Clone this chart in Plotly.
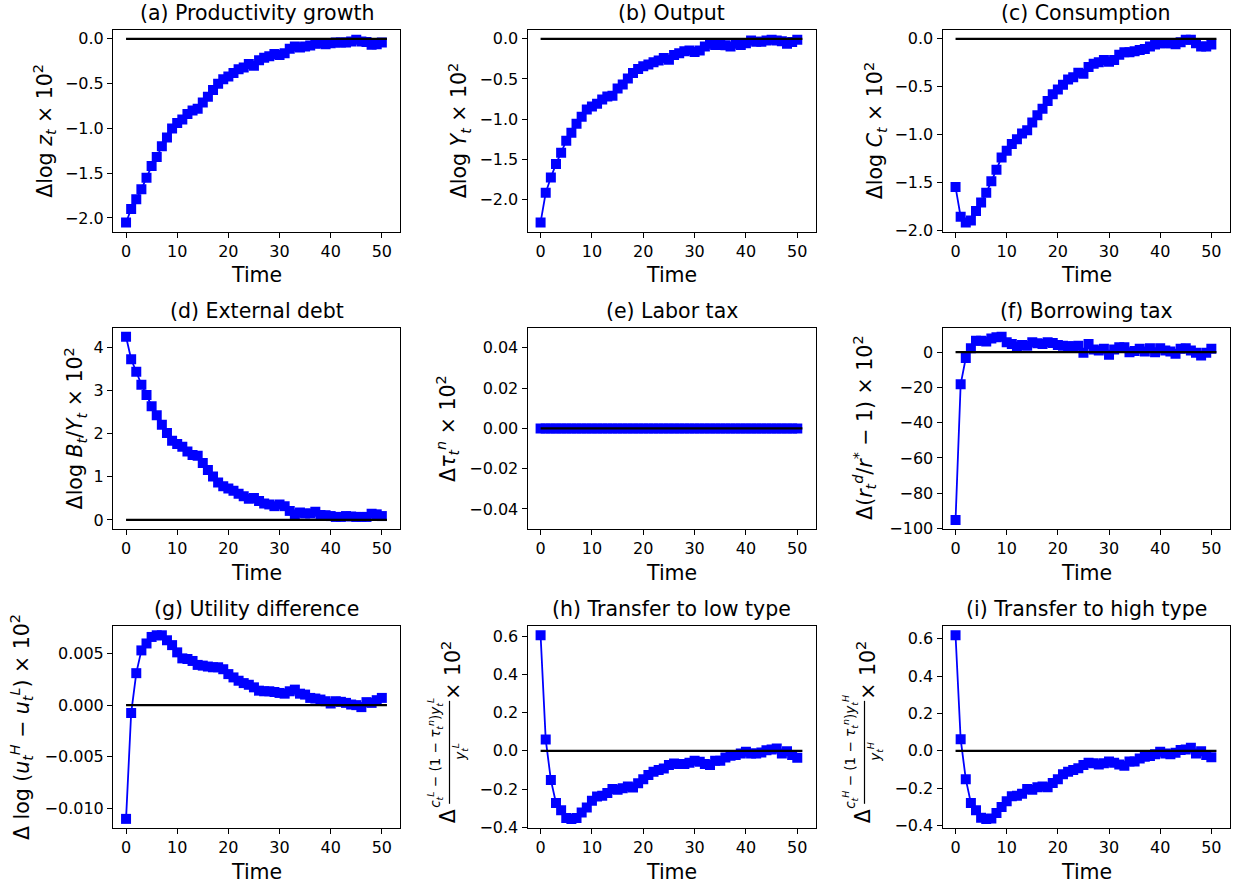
import plotly.graph_objects as go

W, H = 1233, 892

t = list(range(51))
zero_x = [0, 51]
zero_y = [0, 0]

prod = [-2.05, -1.90, -1.79, -1.68, -1.55, -1.42, -1.32, -1.20, -1.10, -1.00,
        -0.94, -0.90, -0.84, -0.80, -0.78, -0.71, -0.645, -0.57, -0.50, -0.45,
        -0.42, -0.38, -0.34, -0.32, -0.28, -0.30, -0.24, -0.21, -0.195, -0.17,
        -0.18, -0.16, -0.11, -0.085, -0.095, -0.085, -0.075, -0.055, -0.05, -0.06,
        -0.05, -0.04, -0.04, -0.04, -0.03, -0.01, -0.03, -0.035, -0.065, -0.06, -0.04]

output = [-2.29, -1.92, -1.73, -1.56, -1.42, -1.27, -1.17, -1.06, -0.97, -0.88,
          -0.845, -0.81, -0.755, -0.72, -0.71, -0.62, -0.57, -0.495, -0.425, -0.375,
          -0.34, -0.32, -0.29, -0.27, -0.24, -0.26, -0.20, -0.18, -0.155, -0.145,
          -0.165, -0.145, -0.095, -0.06, -0.075, -0.075, -0.08, -0.095, -0.06, -0.075,
          -0.055, -0.02, -0.035, -0.035, -0.02, -0.01, -0.02, -0.03, -0.06, -0.04, -0.01]

consumption = [-1.55, -1.86, -1.92, -1.90, -1.80, -1.71, -1.61, -1.49, -1.37, -1.24,
               -1.17, -1.10, -1.05, -0.99, -0.955, -0.875, -0.80, -0.73, -0.65, -0.58,
               -0.53, -0.48, -0.425, -0.40, -0.355, -0.365, -0.295, -0.26, -0.245, -0.22,
               -0.24, -0.22, -0.165, -0.14, -0.14, -0.13, -0.115, -0.105, -0.08, -0.06,
               -0.045, -0.045, -0.045, -0.055, -0.035, -0.01, -0.01, -0.045, -0.08, -0.08, -0.06]

debt = [4.25, 3.73, 3.44, 3.14, 2.90, 2.64, 2.43, 2.21, 2.02, 1.84,
        1.76, 1.70, 1.59, 1.51, 1.49, 1.32, 1.16, 1.01, 0.87, 0.78,
        0.73, 0.68, 0.61, 0.55, 0.49, 0.51, 0.44, 0.38, 0.36, 0.32,
        0.36, 0.32, 0.21, 0.13, 0.17, 0.15, 0.15, 0.19, 0.115, 0.11,
        0.09, 0.07, 0.07, 0.09, 0.08, 0.07, 0.07, 0.07, 0.145, 0.13, 0.09]

labor_tax = [0.0] * 51

borrow_tax = [-95.2, -18.2, -3.3, 2.2, 6.5, 6.5, 6.1, 7.8, 8.4, 8.7,
              5.6, 4.6, 3.2, 4.1, 3.7, 5.6, 5.0, 4.6, 5.6, 5.2,
              4.1, 3.7, 3.3, 3.3, 3.7, -0.4, 4.6, 1.5, 0.9, 1.9,
              -1.5, 1.5, 2.8, 2.8, 0.0, 0.6, 1.9, 0.4, 2.2, 0.0,
              2.2, 0.9, 0.4, -0.9, 1.9, 2.2, 0.9, -0.4, -1.9, -0.4, 1.9]

utility = [-0.01099, -0.00076, 0.00309, 0.00529, 0.00596, 0.00659, 0.00675, 0.00675, 0.00627, 0.0058,
           0.0051, 0.00452, 0.00446, 0.00427, 0.00389, 0.00382, 0.00373, 0.00366, 0.00366, 0.00347,
           0.0030, 0.00268, 0.00236, 0.00213, 0.00197, 0.00172, 0.0014, 0.00134, 0.00134, 0.00127,
           0.00118, 0.00111, 0.00134, 0.0015, 0.00111, 0.00102, 0.0007, 0.00064, 0.00054, 0.00038,
           0.00016, 0.00038, 0.00032, 0.00022, 0.00006, 0.0, -0.00019, 0.00029, 0.00022, 0.00048, 0.0007]

transfer_low = [0.605, 0.059, -0.152, -0.273, -0.311, -0.351, -0.356, -0.351, -0.322, -0.296,
                -0.261, -0.239, -0.235, -0.221, -0.200, -0.204, -0.195, -0.187, -0.192, -0.169,
                -0.149, -0.126, -0.109, -0.100, -0.092, -0.074, -0.066, -0.069, -0.069, -0.062,
                -0.052, -0.057, -0.069, -0.074, -0.052, -0.052, -0.035, -0.026, -0.022, -0.014,
                -0.005, -0.014, -0.014, -0.009, 0.003, 0.007, 0.012, -0.014, -0.002, -0.022, -0.036]

transfer_high = [0.619, 0.062, -0.152, -0.280, -0.319, -0.359, -0.365, -0.363, -0.333, -0.301,
                 -0.271, -0.244, -0.241, -0.230, -0.205, -0.209, -0.196, -0.191, -0.196, -0.173,
                 -0.152, -0.126, -0.112, -0.103, -0.094, -0.076, -0.064, -0.067, -0.073, -0.067,
                 -0.058, -0.064, -0.073, -0.080, -0.058, -0.058, -0.041, -0.032, -0.028, -0.018,
                 -0.005, -0.014, -0.018, -0.011, 0.004, 0.007, 0.016, -0.014, -0.002, -0.023, -0.035]

titles = ["(a) Productivity growth", "(b) Output", "(c) Consumption",
          "(d) External debt", "(e) Labor tax", "(f) Borrowing tax",
          "(g) Utility difference", "(h) Transfer to low type", "(i) Transfer to high type"]

series = [prod, output, consumption, debt, labor_tax, borrow_tax, utility, transfer_low, transfer_high]

ylabels = [
    "Δlog <i>z</i><sub><i>t</i></sub> × 10<sup>2</sup>",
    "Δlog <i>Y</i><sub><i>t</i></sub> × 10<sup>2</sup>",
    "Δlog <i>C</i><sub><i>t</i></sub> × 10<sup>2</sup>",
    "Δlog <i>B</i><sub><i>t</i></sub>/<i>Y</i><sub><i>t</i></sub> × 10<sup>2</sup>",
    "Δ<i>τ</i><sub><i>t</i></sub><sup><i>n</i></sup> × 10<sup>2</sup>",
    "Δ(<i>r</i><sub><i>t</i></sub><sup><i>d</i></sup>/<i>r</i><sup>*</sup> − 1) × 10<sup>2</sup>",
    "Δ log (<i>u</i><sub><i>t</i></sub><sup><i>H</i></sup> − <i>u</i><sub><i>t</i></sub><sup><i>L</i></sup>) × 10<sup>2</sup>",
    None, None,
]

ylabel_offsets = [-68, -68, -67, -38, -80, -78, -92, None, None]

ytick_dtick = [0.5, 0.5, 0.5, 1, 0.02, 20, 0.005, 0.2, 0.2]
ytick_fmt = [".1f", ".1f", ".1f", "d", ".2f", "d", ".3f", ".1f", ".1f"]

# layout geometry (pixels)
col_x = [(113, 400), (527.5, 815.5), (942.5, 1229.5)]
row_y = [(30, 234), (331, 534.5), (632.5, 836.5)]

FONT = "DejaVu Sans"
BLUE = "#0000ff"
TICK_SIZE = 16
LABEL_SIZE = 20.5

def px(x):
    return x / W

def py(y):
    return 1 - y / H

fig = go.Figure()
annotations = []
shapes = []
axes = {}

for i in range(9):
    r, c = divmod(i, 3)
    x0, x1 = col_x[c]
    y0, y1 = row_y[r]
    ax = "" if i == 0 else str(i + 1)
    ys = series[i]
    fig.add_trace(go.Scatter(
        x=t, y=ys, mode="lines+markers",
        line=dict(color=BLUE, width=1.8),
        marker=dict(symbol="square", size=10, color=BLUE, line=dict(width=0)),
        xaxis="x" + ax, yaxis="y" + ax, showlegend=False))
    fig.add_trace(go.Scatter(
        x=zero_x, y=zero_y, mode="lines",
        line=dict(color="black", width=2.2),
        xaxis="x" + ax, yaxis="y" + ax, showlegend=False))

    lo = min(min(ys), 0)
    hi = max(max(ys), 0)
    if hi == lo:
        yr = [-0.05, 0.05]
    else:
        pad = 0.05 * (hi - lo)
        yr = [lo - pad, hi + pad]
    xr = [-2.55, 53.55]

    def common():
        return dict(showline=True, mirror=True, linecolor="black", linewidth=1,
                    ticks="outside", ticklen=5, tickwidth=1, tickcolor="black",
                    showgrid=False, zeroline=False,
                    tickfont=dict(family=FONT, size=TICK_SIZE, color="black"))
    axes["xaxis" + ax] = dict(domain=[px(x0), px(x1)], range=xr,
                              anchor="y" + ax, tick0=0, dtick=10, **common())
    axes["yaxis" + ax] = dict(domain=[py(y1), py(y0)], range=yr,
                              anchor="x" + ax, tick0=0, dtick=ytick_dtick[i],
                              tickformat=ytick_fmt[i], **common())

    xc = (x0 + x1) / 2
    annotations.append(dict(text=titles[i], x=px(xc), y=py(y0 - 17), xref="paper", yref="paper",
                            xanchor="center", yanchor="middle", showarrow=False,
                            font=dict(family=FONT, size=LABEL_SIZE, color="black")))
    annotations.append(dict(text="Time", x=px(xc), y=py(y1 + 44), xref="paper", yref="paper",
                            xanchor="center", yanchor="middle", showarrow=False,
                            font=dict(family=FONT, size=LABEL_SIZE, color="black")))
    if ylabels[i] is not None:
        annotations.append(dict(text=ylabels[i], x=px(x0 + ylabel_offsets[i]), y=py((y0 + y1) / 2),
                                xref="paper", yref="paper", textangle=-90,
                                xanchor="center", yanchor="middle", showarrow=False,
                                font=dict(family=FONT, size=LABEL_SIZE, color="black")))

# fraction-style labels for panels (h) and (i)
frac_parts = {7: "L", 8: "H"}
for i, sup in frac_parts.items():
    r, c = divmod(i, 3)
    L = col_x[c][0]
    num = ("<i>c</i><sub><i>t</i></sub><sup><i>%s</i></sup> − (1 − <i>τ</i><sub><i>t</i></sub>"
           "<sup><i>n</i></sup>)<i>y</i><sub><i>t</i></sub><sup><i>%s</i></sup>") % (sup, sup)
    den = "<i>y</i><sub><i>t</i></sub><sup><i>%s</i></sup>" % sup
    annotations.append(dict(text="Δ", x=px(L - 80), y=py(825), xref="paper", yref="paper",
                            textangle=-90, xanchor="center", yanchor="middle", showarrow=False,
                            font=dict(family=FONT, size=LABEL_SIZE, color="black")))
    annotations.append(dict(text=num, x=px(L - 92), y=py(760), xref="paper", yref="paper",
                            textangle=-90, xanchor="center", yanchor="middle", showarrow=False,
                            font=dict(family=FONT, size=13.5, color="black")))
    annotations.append(dict(text=den, x=px(L - 67), y=py(760), xref="paper", yref="paper",
                            textangle=-90, xanchor="center", yanchor="middle", showarrow=False,
                            font=dict(family=FONT, size=13.5, color="black")))
    annotations.append(dict(text="× 10<sup>2</sup>", x=px(L - 76), y=py(677), xref="paper", yref="paper",
                            textangle=-90, xanchor="center", yanchor="middle", showarrow=False,
                            font=dict(family=FONT, size=LABEL_SIZE, color="black")))
    shapes.append(dict(type="line", xref="paper", yref="paper",
                       x0=px(L - 78), x1=px(L - 78), y0=py(708), y1=py(812),
                       line=dict(color="black", width=1.2)))

fig.update_layout(width=W, height=H, margin=dict(l=0, r=0, t=0, b=0),
                  paper_bgcolor="white", plot_bgcolor="white",
                  annotations=annotations, shapes=shapes,
                  font=dict(family=FONT, color="black", size=TICK_SIZE),
                  **axes)

fig.write_html("out.html")
